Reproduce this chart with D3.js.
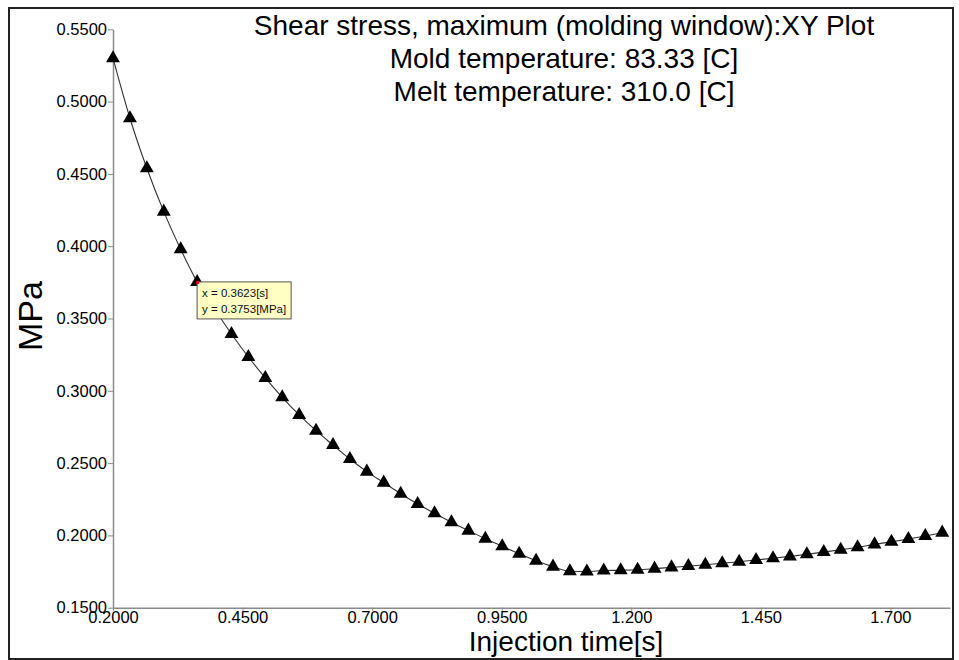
<!DOCTYPE html>
<html>
<head>
<meta charset="utf-8">
<script src="https://cdn.jsdelivr.net/npm/d3@7"></script>
<style>
  body { margin: 0; background: #fff; }
  svg { display: block; font-family: "Liberation Sans", Arial, sans-serif; }
</style>
</head>
<body>
<svg id="chart" width="959" height="660"></svg>
<script>
var titleLines = [
  "Shear stress, maximum (molding window):XY Plot",
  "Mold temperature: 83.33 [C]",
  "Melt temperature: 310.0 [C]"
];
var xLabel = "Injection time[s]";
var yLabel = "MPa";

var xTicks = [0.2, 0.45, 0.7, 0.95, 1.2, 1.45, 1.7];
var yTicks = [0.15, 0.2, 0.25, 0.3, 0.35, 0.4, 0.45, 0.5, 0.55];

// injection time [s]
var times = [
  0.2000, 0.2327, 0.2653, 0.2980, 0.3306, 0.3623, 0.3959, 0.4286, 0.4612, 0.4939,
  0.5265, 0.5592, 0.5918, 0.6245, 0.6571, 0.6898, 0.7224, 0.7551, 0.7878, 0.8204,
  0.8531, 0.8857, 0.9184, 0.9510, 0.9837, 1.0163, 1.0490, 1.0816, 1.1143, 1.1469,
  1.1796, 1.2122, 1.2449, 1.2776, 1.3102, 1.3429, 1.3755, 1.4082, 1.4408, 1.4735,
  1.5061, 1.5388, 1.5714, 1.6041, 1.6367, 1.6694, 1.7020, 1.7347, 1.7673, 1.8000
];
// shear stress [MPa]
var stress = [
  0.5300, 0.4885, 0.4539, 0.4239, 0.3979, 0.3753, 0.3566, 0.3393, 0.3234, 0.3089,
  0.2955, 0.2833, 0.2724, 0.2625, 0.2528, 0.2441, 0.2365, 0.2288, 0.2217, 0.2153,
  0.2091, 0.2033, 0.1977, 0.1925, 0.1873, 0.1825, 0.1784, 0.1752, 0.1750, 0.1757,
  0.1759, 0.1762, 0.1770, 0.1779, 0.1788, 0.1797, 0.1807, 0.1818, 0.1830, 0.1842,
  0.1855, 0.1869, 0.1885, 0.1901, 0.1918, 0.1938, 0.1956, 0.1975, 0.1996, 0.2019
];

var probeIndex = 5;

var svg = d3.select("#chart");

// outer frame
svg.append("rect")
  .attr("x", 9)
  .attr("y", 8)
  .attr("width", 944)
  .attr("height", 651)
  .attr("fill", "none")
  .attr("stroke", "#222")
  .attr("stroke-width", 2);

var x = d3.scaleLinear().domain([0.2, 1.815]).range([113, 950]);
var y = d3.scaleLinear().domain([0.15, 0.55]).range([607.7, 29.3]);
var fmt = d3.format(".4g");

var xAxis = d3.axisBottom(x).tickValues(xTicks).tickFormat(fmt).tickSize(3).tickSizeOuter(0);
var yAxis = d3.axisLeft(y).tickValues(yTicks).tickFormat(fmt).tickSize(5).tickSizeOuter(0);

var gx = svg.append("g")
  .attr("transform", "translate(0,607.7)")
  .call(xAxis);
var gy = svg.append("g")
  .attr("transform", "translate(113,0)")
  .call(yAxis);

[gx, gy].forEach(function(g) {
  g.select(".domain").attr("stroke", "#8a8a8a").attr("stroke-width", 1.5);
  g.selectAll(".tick line").attr("stroke", "#8a8a8a");
  g.selectAll(".tick text")
    .attr("fill", "#000")
    .style("font-family", "'Liberation Sans', Arial, sans-serif")
    .style("font-size", "16.5px");
});
gy.selectAll(".tick text").attr("x", -6);
gx.selectAll(".tick text").attr("y", 4);

// curve
var pts = times.map(function(t, i) { return [t, stress[i]]; });
var line = d3.line()
  .x(function(d) { return x(d[0]); })
  .y(function(d) { return y(d[1]); })
  .curve(d3.curveMonotoneX);

svg.append("path")
  .datum(pts)
  .attr("d", line)
  .attr("fill", "none")
  .attr("stroke", "#333")
  .attr("stroke-width", 1.1);

svg.selectAll(".marker")
  .data(pts)
  .join("path")
  .attr("class", "marker")
  .attr("d", d3.symbol().type(d3.symbolTriangle).size(84))
  .attr("transform", function(d) { return "translate(" + x(d[0]) + "," + y(d[1]) + ")"; })
  .attr("fill", "#000");

// titles
svg.append("g")
  .selectAll("text")
  .data(titleLines)
  .join("text")
  .attr("x", 564)
  .attr("y", function(d, i) { return 35 + i * 33; })
  .attr("text-anchor", "middle")
  .style("font-size", "28px")
  .attr("fill", "#000")
  .text(function(d) { return d; });

svg.append("text")
  .attr("x", 566)
  .attr("y", 651)
  .attr("text-anchor", "middle")
  .style("font-size", "28px")
  .text(xLabel);

svg.append("text")
  .attr("transform", "translate(42,316) rotate(-90)")
  .attr("text-anchor", "middle")
  .style("font-size", "34px")
  .text(yLabel);

// probe tooltip
var px = x(times[probeIndex]);
var py = y(stress[probeIndex]);
var tip = svg.append("g").attr("transform", "translate(" + px + "," + py + ")");
tip.append("rect")
  .attr("x", 0)
  .attr("y", 0)
  .attr("width", 94)
  .attr("height", 37)
  .attr("fill", "#ffffc4")
  .attr("stroke", "#555")
  .attr("stroke-width", 1);
tip.selectAll("text")
  .data(["x = " + times[probeIndex].toFixed(4) + "[s]", "y = " + stress[probeIndex].toFixed(4) + "[MPa]"])
  .join("text")
  .attr("x", 5)
  .attr("y", function(d, i) { return 15 + i * 16; })
  .style("font-size", "11.5px")
  .attr("fill", "#111")
  .text(function(d) { return d; });
tip.append("rect")
  .attr("x", -1)
  .attr("y", -1)
  .attr("width", 3)
  .attr("height", 3)
  .attr("fill", "#e00");
</script>
</body>
</html>
